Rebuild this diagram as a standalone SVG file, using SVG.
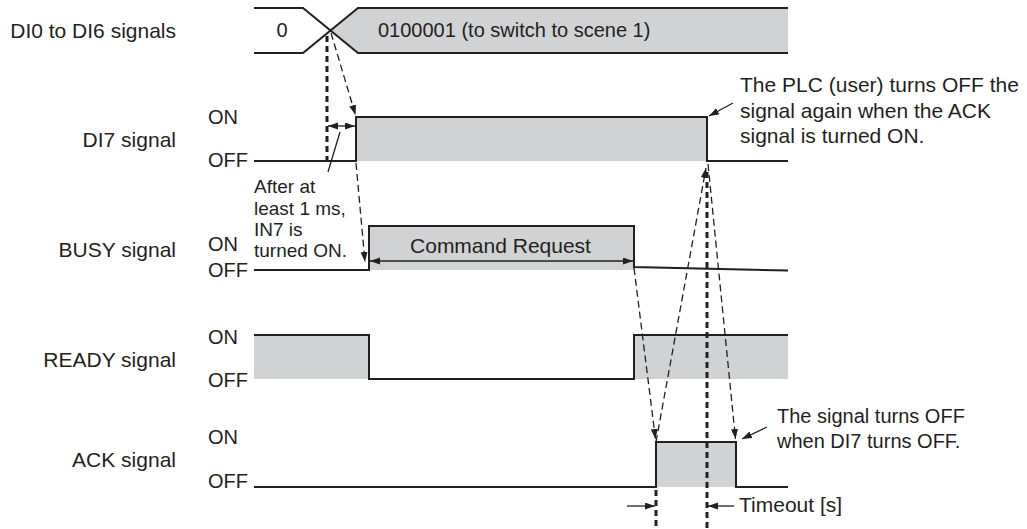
<svg xmlns="http://www.w3.org/2000/svg" width="1027" height="529" viewBox="0 0 1027 529">
<defs>
<style>
text{font-family:"Liberation Sans",Arial,sans-serif;font-size:20px;fill:#231f20}
.lbl{text-anchor:end;font-size:21px}
.big{font-size:21px}
.sm{font-size:19px}
.sig{fill:none;stroke:#231f20;stroke-width:2}
.fill{fill:#d1d2d4;stroke:none}
.dash{fill:none;stroke:#231f20;stroke-width:1.3;stroke-dasharray:7,4}
.dot{fill:none;stroke:#231f20;stroke-width:3;stroke-dasharray:6,4}
.thin{fill:none;stroke:#231f20;stroke-width:1.3}
</style>
<marker id="ah" markerUnits="userSpaceOnUse" markerWidth="11" markerHeight="8" refX="10" refY="3.5" orient="auto-start-reverse">
<path d="M0,0 L10,3.5 L0,7 z" fill="#231f20"/>
</marker>
</defs>
<rect width="1027" height="529" fill="#fff"/>

<g id="di0-di6">
<text class="lbl" x="176" y="38">DI0 to DI6 signals</text>
<polygon class="fill" points="331,31 358,8 788,8 788,53 358,53"/>
<path class="sig" d="M254,8 H303 L358,53 H788 M254,53 H303 L358,8 H788"/>
<text x="282" y="37" text-anchor="middle">0</text>
<text x="378" y="37">0100001 (to switch to scene 1)</text>
</g>

<g id="di7">
<text class="lbl" x="176" y="147">DI7 signal</text>
<text x="208" y="124">ON</text>
<text x="208" y="167">OFF</text>
<rect class="fill" x="356" y="117" width="351" height="44"/>
<path class="sig" d="M254,161 H356 V117 H707 V161 H788"/>
</g>

<g id="busy">
<text class="lbl" x="176" y="257">BUSY signal</text>
<text x="208" y="251">ON</text>
<text x="208" y="277">OFF</text>
<rect class="fill" x="369" y="226" width="265" height="44"/>
<path class="sig" d="M254,270 H369 V226 H634 V267 L788,270.5"/>
<text class="big" x="500.5" y="253" text-anchor="middle">Command Request</text>
</g>

<g id="ready">
<text class="lbl" x="176" y="367">READY signal</text>
<text x="208" y="344">ON</text>
<text x="208" y="387">OFF</text>
<rect class="fill" x="254" y="335" width="115" height="44"/>
<rect class="fill" x="634" y="335" width="154" height="44"/>
<path class="sig" d="M254,335 H369 V379 H634 V335 H788"/>
</g>

<g id="ack">
<text class="lbl" x="176" y="467">ACK signal</text>
<text x="208" y="444">ON</text>
<text x="208" y="488">OFF</text>
<rect class="fill" x="656" y="442" width="80" height="45"/>
<path class="sig" d="M254,487 H656 V442 H736 V487 H788"/>
</g>

<g id="note-after">
<text class="sm" x="254" y="193">After at</text>
<text class="sm" x="254" y="214.5">least 1 ms,</text>
<text class="sm" x="254" y="236">IN7 is</text>
<text class="sm" x="254" y="257">turned ON.</text>
</g>

<g id="note-plc">
<text class="big" x="740" y="92">The PLC (user) turns OFF the</text>
<text class="big" x="740" y="118">signal again when the ACK</text>
<text class="big" x="740" y="143">signal is turned ON.</text>
</g>

<g id="note-ack">
<text x="777" y="423">The signal turns OFF</text>
<text x="777" y="448">when DI7 turns OFF.</text>
</g>

<g id="timeout">
<text class="big" x="739" y="512">Timeout [s]</text>
</g>

<g id="connectors">
<path class="dot" d="M327,36 V161"/>
<path class="dot" d="M707,172 V529"/>
<path class="dot" d="M656,490 V529"/>
<path class="dash" d="M331,33 L355.5,115" marker-end="url(#ah)"/>
<path class="dash" d="M356,163 L365,262" marker-end="url(#ah)"/>
<path class="dash" d="M634,268 L655.5,439" marker-end="url(#ah)"/>
<path class="dash" d="M656,442 L706,168" marker-end="url(#ah)"/>
<path class="dash" d="M708,164 L735.5,439" marker-end="url(#ah)"/>
<path class="thin" d="M328,126 H355" marker-start="url(#ah)" marker-end="url(#ah)"/>
<path class="thin" d="M328,172 L340,132"/>
<path class="thin" d="M370,261 H633" marker-start="url(#ah)" marker-end="url(#ah)"/>
<path class="thin" d="M733,103 L709,116" marker-end="url(#ah)"/>
<path class="thin" d="M767,427 L742,439" marker-end="url(#ah)"/>
<path class="thin" d="M627,506 H655" marker-end="url(#ah)"/>
<path class="thin" d="M734,506 H708" marker-end="url(#ah)"/>
</g>
</svg>
